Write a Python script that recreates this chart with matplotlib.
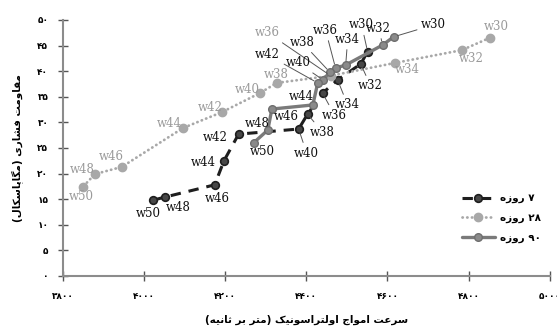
#!/usr/bin/env python3
"""
Compressive strength vs. ultrasonic pulse velocity (7/28/90 day).
"""
import re

import matplotlib
matplotlib.use("Agg")
import matplotlib.pyplot as plt

# ---- data -------------------------------------------------------------
weeks = ["w30", "w32", "w34", "w36", "w38", "w40", "w42", "w44", "w46", "w48", "w50"]

upv_7 = [4551, 4534, 4477, 4440, 4403, 4381, 4233, 4197, 4174, 4051, 4022]
fc_7 = [43.8, 41.4, 38.3, 35.7, 31.6, 28.7, 27.7, 22.5, 17.8, 15.4, 14.8]

upv_28 = [4852, 4783, 4618, 4460, 4327, 4285, 4192, 4096, 3945, 3879, 3849]
fc_28 = [46.5, 44.1, 41.6, 39.1, 37.7, 35.7, 32.0, 28.9, 21.3, 19.9, 17.4]

upv_90 = [4615, 4588, 4497, 4472, 4458, 4441, 4428, 4416, 4315, 4305, 4270]
fc_90 = [46.7, 45.1, 41.2, 40.6, 39.8, 38.3, 37.7, 33.4, 32.6, 28.5, 26.0]

x_ticks = [3800, 4000, 4200, 4400, 4600, 4800, 5000]
y_ticks = [0, 5, 10, 15, 20, 25, 30, 35, 40, 45, 50]

series_names = ["۷ روزه", "۲۸ روزه", "۹۰ روزه"]
x_title = "سرعت امواج اولتراسونیک (متر بر ثانیه)"
y_title = "مقاومت فشاری (مگاپاسکال)"

# label offsets in pixels (dx, dy) and whether a leader line is drawn
off_7 = [(-6, 27, 1), (10, -22, 1), (10, -25, 1), (12, -22, 1), (15, -18, 1),
         (8, -24, 1), (-23, -3, 0), (-21, -2, 0), (3, -14, 0), (13, -10, 0), (-5, -13, 0)]
off_28 = [(7, 11, 0), (10, -8, 0), (13, -7, 0), (-63, 43, 1), (0, 8, 0),
          (-12, 4, 0), (-12, 5, 0), (-14, 4, 0), (-10, 10, 0), (-13, 5, 0), (-2, -10, 0)]
off_90 = [(40, 12, 1), (-4, 17, 1), (2, 26, 1), (-10, 38, 1), (-28, 30, 1),
          (-25, 17, 1), (-50, 28, 1), (-12, 8, 0), (14, -7, 0), (-11, 7, 0), (9, -9, 0)]

# ---- minimal Persian shaping (matplotlib has no bidi / joining) --------
FORMS = {
    "ا": ("\uFE8D", "\uFE8E", None, None),
    "ب": ("\uFE8F", "\uFE90", "\uFE91", "\uFE92"),
    "پ": ("\uFB56", "\uFB57", "\uFB58", "\uFB59"),
    "ت": ("\uFE95", "\uFE96", "\uFE97", "\uFE98"),
    "ث": ("\uFE99", "\uFE9A", "\uFE9B", "\uFE9C"),
    "ج": ("\uFE9D", "\uFE9E", "\uFE9F", "\uFEA0"),
    "ر": ("\uFEAD", "\uFEAE", None, None),
    "ز": ("\uFEAF", "\uFEB0", None, None),
    "س": ("\uFEB1", "\uFEB2", "\uFEB3", "\uFEB4"),
    "ش": ("\uFEB5", "\uFEB6", "\uFEB7", "\uFEB8"),
    "ع": ("\uFEC9", "\uFECA", "\uFECB", "\uFECC"),
    "ف": ("\uFED1", "\uFED2", "\uFED3", "\uFED4"),
    "ق": ("\uFED5", "\uFED6", "\uFED7", "\uFED8"),
    "ک": ("\uFB8E", "\uFB8F", "\uFB90", "\uFB91"),
    "گ": ("\uFB92", "\uFB93", "\uFB94", "\uFB95"),
    "ل": ("\uFEDD", "\uFEDE", "\uFEDF", "\uFEE0"),
    "م": ("\uFEE1", "\uFEE2", "\uFEE3", "\uFEE4"),
    "ن": ("\uFEE5", "\uFEE6", "\uFEE7", "\uFEE8"),
    "ه": ("\uFEE9", "\uFEEA", "\uFEEB", "\uFEEC"),
    "و": ("\uFEED", "\uFEEE", None, None),
    "ی": ("\uFBFC", "\uFBFD", "\uFBFE", "\uFBFF"),
}


def fa(text):
    out = []
    for i, c in enumerate(text):
        if c not in FORMS:
            out.append(c)
            continue
        prev = text[i - 1] if i > 0 else ""
        nxt = text[i + 1] if i + 1 < len(text) else ""
        jp = prev in FORMS and FORMS[prev][2] is not None
        jn = nxt in FORMS and FORMS[c][2] is not None
        iso, fin, ini, med = FORMS[c]
        out.append(med if jp and jn else fin if jp else ini if jn else iso)
    vis = "".join(reversed(out))
    vis = vis.translate(str.maketrans("()", ")("))
    vis = re.sub("[۰-۹]+", lambda m: m.group(0)[::-1], vis)
    return vis


def fa_digits(v):
    return str(v).translate(str.maketrans("0123456789", "۰۱۲۳۴۵۶۷۸۹"))


# ---- plot ---------------------------------------------------------------
fig = plt.figure(figsize=(5.57, 3.27), dpi=100)
ax = fig.add_axes([0.113, 0.156, 0.874, 0.783])

c7, c28, c90 = "#1e1e1e", "#a8a8a8", "#7a7a7a"

ax.plot(upv_7, fc_7, color=c7, lw=2.2, dashes=(3.4, 2.6),
        marker="o", ms=5.5, mfc="#474747", mec=c7, mew=1.2, label=fa(series_names[0]))
ax.plot(upv_28, fc_28, color=c28, lw=2.0, ls=(0, (0.1, 1.6)), dash_capstyle="round",
        marker="o", ms=6, mfc=c28, mec=c28, label=fa(series_names[1]))
ax.plot(upv_90, fc_90, color=c90, lw=2.4, solid_capstyle="round",
        marker="o", ms=5.5, mfc="#8a8a8a", mec="#6e6e6e", mew=1.0, label=fa(series_names[2]))

for xs, ys, offs, tc in [(upv_7, fc_7, off_7, "#111111"),
                         (upv_28, fc_28, off_28, "#9a9a9a"),
                         (upv_90, fc_90, off_90, "#111111")]:
    for w, x, y, (dx, dy, lead) in zip(weeks, xs, ys, offs):
        kw = {}
        if lead:
            kw["arrowprops"] = dict(arrowstyle="-", color="#555555", lw=0.7,
                                    shrinkA=1, shrinkB=3)
        ax.annotate(w, (x, y), xytext=(dx, dy), textcoords="offset pixels",
                    ha="center", va="center", fontsize=8.5, color=tc,
                    family="DejaVu Serif", **kw)

ax.set_xlim(3800, 5000)
ax.set_ylim(0, 50)
ax.set_xticks(x_ticks)
ax.set_yticks(y_ticks)
ax.set_xticklabels([fa_digits(v) for v in x_ticks], fontsize=6.5, fontweight="bold")
ax.set_yticklabels([fa_digits(v) for v in y_ticks], fontsize=6.5, fontweight="bold")
ax.tick_params(direction="inout", length=7, width=1, color="#555555")
ax.tick_params(axis="x", pad=8)
ax.tick_params(axis="y", pad=7)

for s in ["top", "right"]:
    ax.spines[s].set_visible(False)
for s in ["left", "bottom"]:
    ax.spines[s].set_color("#8c8c8c")
    ax.spines[s].set_linewidth(1.5)

ax.set_xlabel(fa(x_title), fontsize=7.5, fontweight="bold", labelpad=10)
ax.set_ylabel(fa(y_title), fontsize=7.5, fontweight="bold", labelpad=10)

ax.legend(loc="upper left", bbox_to_anchor=(0.8, 0.36), frameon=False,
          handlelength=3.2, labelspacing=0.9, handletextpad=0.5,
          prop={"weight": "bold", "size": 7.5})

fig.savefig("out.png", dpi=100)
